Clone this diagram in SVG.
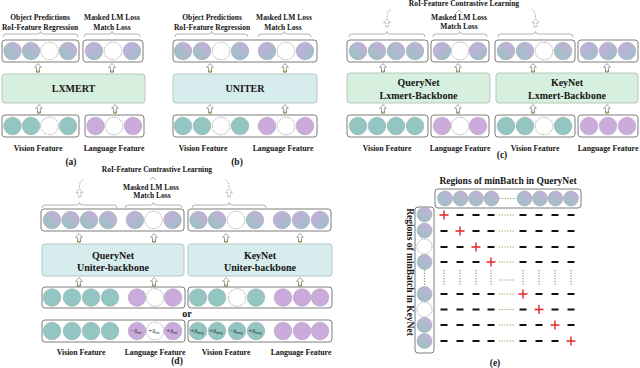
<svg xmlns="http://www.w3.org/2000/svg" width="640" height="368" viewBox="0 0 640 368">
<style>
.tx{font-family:"Liberation Serif","Times New Roman",serif;font-weight:bold;fill:#151515;text-anchor:middle}
.s7{font-size:7.5px}.s8{font-size:7.8px}.s9{font-size:9.5px}.s10{font-size:10px}
.bx{fill:#fff;stroke:#7c7c7c;stroke-width:1}
.mg{fill:#d7efde;stroke:#b8c8bc;stroke-width:1}
.mc{fill:#d7ecec;stroke:#b6c6c6;stroke-width:1}
.t{fill:#93c6c2;stroke:#8fa5a5;stroke-width:.5}
.p{fill:#caabdb;stroke:#a99bb5;stroke-width:.5}
.w{fill:#fff;stroke:#8a8a8a;stroke-width:.7;stroke-dasharray:1.4 .9}
.v{fill:url(#gV);stroke:#9aa5ad;stroke-width:.5}
.l{fill:url(#gL);stroke:#9aa5ad;stroke-width:.5}
.br{fill:none;stroke:#9ba58c;stroke-width:.8}
.dsh{fill:none;stroke:#8f8f8f;stroke-width:.8;stroke-dasharray:1.5 1.2}
.dt{fill:none;stroke:#8d9a58;stroke-width:1.2;stroke-dasharray:1.2 1.5}
.dl{font-family:"Liberation Serif","Times New Roman",serif;font-size:6.4px;fill:#222;text-anchor:middle}
.sb{font-size:4px}
</style>
<defs>
<linearGradient id="gV" x1="1" y1="0" x2="0" y2="1">
<stop offset="0" stop-color="#d0a8e0"/><stop offset=".55" stop-color="#a9bccb"/><stop offset="1" stop-color="#9bc0c6"/>
</linearGradient>
<linearGradient id="gL" x1="0" y1="0" x2="1" y2="1">
<stop offset="0" stop-color="#d0a8e0"/><stop offset=".5" stop-color="#b2b6d2"/><stop offset="1" stop-color="#9bc0c6"/>
</linearGradient>
<g id="ar">
<path d="M0 -4.5L3.4 -0.6H1.4V4H-1.4V-0.6H-3.4Z" fill="#fff" stroke="#8e8e8e" stroke-width=".8"/>
<path d="M-1.4 1.5V4H1.4V1.5" fill="none" stroke="#7e8f3a" stroke-width=".9"/>
</g>
<path id="ad" d="M0 -4.5L3.4 -0.6H1.4V4H-1.4V-0.6H-3.4Z" fill="#fff" stroke="#8e8e8e" stroke-width=".8" stroke-dasharray="1.5 1"/>
<rect id="mn" x="-3.5" y="-1" width="7" height="2" fill="#111"/>
<path id="pl" d="M-4.5 0H4.5M0 -4.5V4.5" stroke="#e52424" stroke-width="1.4" fill="none"/>
<path id="vd" d="M0 270V286" class="dt"/>
</defs>
<rect width="640" height="368" fill="#fff"/>

<!-- connectors: arrows, braces -->
<g id="connectors">
<path class="br" d="M3 37Q3 34 6 34H37.5Q40.5 34 40.5 31.5Q40.5 34 43.5 34H75Q78 34 78 37"/>
<path class="br" d="M84 37Q84 34 87 34H109Q112 34 112 31.5Q112 34 115 34H137Q140 34 140 37"/>
<path class="br" d="M175 37Q175 34 178 34H208.5Q211.5 34 211.5 31.5Q211.5 34 214.5 34H245Q248 34 248 37"/>
<path class="br" d="M258 37Q258 34 261 34H281.5Q284.5 34 284.5 31.5Q284.5 34 287.5 34H308Q311 34 311 37"/>
<path class="br" d="M349 37Q349 34 352 34H384Q387 34 387 31.5Q387 34 390 34H422Q425 34 425 37"/>
<path class="br" d="M433 37Q433 34 436 34H457Q460 34 460 31.5Q460 34 463 34H484Q487 34 487 37"/>
<path class="br" d="M498 37Q498 34 501 34H532.5Q535.5 34 535.5 31.5Q535.5 34 538.5 34H570Q573 34 573 37"/>
<path class="br" d="M42 208Q42 205 45 205H76.5Q79.5 205 79.5 202.5Q79.5 205 82.5 205H114Q117 205 117 208"/>
<path class="br" d="M125 208Q125 205 128 205H150.5Q153.5 205 153.5 202.5Q153.5 205 156.5 205H179Q182 205 182 208"/>
<path class="br" d="M192 208Q192 205 195 205H226Q229 205 229 202.5Q229 205 232 205H263Q266 205 266 208"/>
<path class="br" d="M456 13L459 10L462 13"/>
<path class="br" d="M150 180L153 177L156 180"/>
<use href="#ad" x="387" y="23"/>
<path class="dsh" d="M387 17Q387 11 391 9.5"/>
<use href="#ad" x="535.5" y="23"/>
<path class="dsh" d="M535.5 17Q535.5 11 531.5 9.5"/>
<use href="#ad" x="79.5" y="193"/>
<path class="dsh" d="M79.5 187Q79.5 181 83.5 179.5"/>
<use href="#ad" x="229" y="193"/>
<path class="dsh" d="M229 187Q229 181 225 179.5"/>
<use href="#ar" x="38" y="68"/><use href="#ar" x="112" y="68"/>
<use href="#ar" x="39" y="109"/><use href="#ar" x="115" y="109"/>
<use href="#ar" x="210" y="68"/><use href="#ar" x="285" y="68"/>
<use href="#ar" x="210" y="109"/><use href="#ar" x="285" y="109"/>
<use href="#ar" x="383" y="68"/><use href="#ar" x="458" y="68"/>
<use href="#ar" x="533" y="68"/><use href="#ar" x="607" y="68"/>
<use href="#ar" x="383" y="109"/><use href="#ar" x="458" y="109"/>
<use href="#ar" x="533" y="109"/><use href="#ar" x="607" y="109"/>
<use href="#ar" x="79" y="238"/><use href="#ar" x="154" y="238"/>
<use href="#ar" x="226" y="238"/><use href="#ar" x="300" y="238"/>
<use href="#ar" x="79" y="282"/><use href="#ar" x="154" y="282"/>
<use href="#ar" x="226" y="282"/><use href="#ar" x="300" y="282"/>
</g>

<!-- ============ (a) ============ -->
<g id="a-labels" class="tx s7">
<text x="40" y="19.5">Object Predictions</text>
<text x="40" y="29.5">RoI-Feature Regression</text>
<text x="112" y="19.5">Masked  LM Loss</text>
<text x="112" y="29.5">Match Loss</text>
</g>
<g id="a-vis-out">
<rect class="bx" x="2" y="40" width="77" height="22" rx="3"/>
<circle class="v" cx="12.5" cy="51" r="8.8"/><circle class="v" cx="31" cy="51" r="8.8"/>
<circle class="w" cx="49.5" cy="51" r="8.8"/><circle class="v" cx="68" cy="51" r="8.8"/>
</g>
<g id="a-lang-out">
<rect class="bx" x="83" y="40" width="60" height="22" rx="3"/>
<circle class="l" cx="94" cy="51" r="8.8"/><circle class="w" cx="113" cy="51" r="8.8"/><circle class="l" cx="132" cy="51" r="8.8"/>
</g>
<g id="a-model">
<rect class="mg" x="2" y="74" width="143" height="29" rx="3"/>
<text class="tx s10" x="73.5" y="92">LXMERT</text>
</g>
<g id="a-vis-in">
<rect class="bx" x="2" y="115" width="77" height="22" rx="3"/>
<circle class="t" cx="12.5" cy="126" r="8.8"/><circle class="t" cx="31" cy="126" r="8.8"/>
<circle class="w" cx="49.5" cy="126" r="8.8"/><circle class="t" cx="68" cy="126" r="8.8"/>
</g>
<g id="a-lang-in">
<rect class="bx" x="85" y="115" width="59" height="22" rx="3"/>
<circle class="p" cx="95.5" cy="126" r="8.8"/><circle class="w" cx="114" cy="126" r="8.8"/><circle class="p" cx="133" cy="126" r="8.8"/>
</g>
<g class="tx s8"><text x="38" y="151">Vision Feature</text><text x="114" y="151">Language Feature</text></g>
<text class="tx s9" x="71" y="165">(a)</text>

<!-- ============ (b) ============ -->
<g id="b-labels" class="tx s7">
<text x="212" y="19.5">Object Predictions</text>
<text x="212" y="29.5">RoI-Feature Regression</text>
<text x="284" y="19.5">Masked  LM Loss</text>
<text x="283" y="29.5">Match Loss</text>
</g>
<g id="b-out">
<rect class="bx" x="173" y="40" width="144" height="22" rx="3"/>
<circle class="v" cx="183" cy="51" r="8.8"/><circle class="v" cx="202" cy="51" r="8.8"/>
<circle class="w" cx="221" cy="51" r="8.8"/><circle class="v" cx="240" cy="51" r="8.8"/>
<circle class="l" cx="267" cy="51" r="8.8"/><circle class="w" cx="286" cy="51" r="8.8"/><circle class="l" cx="305" cy="51" r="8.8"/>
</g>
<g id="b-model">
<rect class="mc" x="173" y="74" width="144" height="29" rx="3"/>
<text class="tx s10" x="245" y="92">UNITER</text>
</g>
<g id="b-in">
<rect class="bx" x="173" y="115" width="144" height="22" rx="3"/>
<circle class="t" cx="183" cy="126" r="8.8"/><circle class="t" cx="202" cy="126" r="8.8"/>
<circle class="w" cx="221" cy="126" r="8.8"/><circle class="t" cx="240" cy="126" r="8.8"/>
<circle class="p" cx="267" cy="126" r="8.8"/><circle class="w" cx="286" cy="126" r="8.8"/><circle class="p" cx="305" cy="126" r="8.8"/>
</g>
<g class="tx s8"><text x="203" y="151">Vision Feature</text><text x="283" y="151">Language Feature</text></g>
<text class="tx s9" x="237" y="165">(b)</text>

<!-- ============ (c) ============ -->
<g id="c-labels" class="tx s7">
<text x="464" y="6">RoI-Feature Contrastive Learning</text>
<text x="459" y="20">Masked  LM Loss</text>
<text x="459" y="29">Match Loss</text>
</g>
<g id="c-q-vis-out">
<rect class="bx" x="347" y="40" width="81" height="22" rx="3"/>
<circle class="v" cx="358" cy="51" r="8.8"/><circle class="v" cx="377" cy="51" r="8.8"/>
<circle class="v" cx="396" cy="51" r="8.8"/><circle class="v" cx="415" cy="51" r="8.8"/>
</g>
<g id="c-q-lang-out">
<rect class="bx" x="431" y="40" width="58" height="22" rx="3"/>
<circle class="l" cx="442" cy="51" r="8.8"/><circle class="w" cx="460" cy="51" r="8.8"/><circle class="l" cx="478" cy="51" r="8.8"/>
</g>
<g id="c-k-vis-out">
<rect class="bx" x="495" y="40" width="80" height="22" rx="3"/>
<circle class="v" cx="506" cy="51" r="8.8"/><circle class="v" cx="525" cy="51" r="8.8"/>
<circle class="w" cx="544" cy="51" r="8.8"/><circle class="v" cx="563" cy="51" r="8.8"/>
</g>
<g id="c-k-lang-out">
<rect class="bx" x="578" y="40" width="60" height="22" rx="3"/>
<circle class="l" cx="589" cy="51" r="8.8"/><circle class="l" cx="608" cy="51" r="8.8"/><circle class="l" cx="627" cy="51" r="8.8"/>
</g>
<g id="c-querynet">
<rect class="mg" x="347" y="73" width="143" height="30" rx="3"/>
<text class="tx s10" x="418.5" y="86">QueryNet</text>
<text class="tx s10" x="418.5" y="98.5">Lxmert-Backbone</text>
</g>
<g id="c-keynet">
<rect class="mg" x="496" y="73" width="142" height="30" rx="3"/>
<text class="tx s10" x="567" y="86">KeyNet</text>
<text class="tx s10" x="567" y="98.5">Lxmert-Backbone</text>
</g>
<g id="c-q-vis-in">
<rect class="bx" x="347" y="115" width="81" height="22" rx="3"/>
<circle class="t" cx="358" cy="126" r="8.8"/><circle class="t" cx="377" cy="126" r="8.8"/>
<circle class="t" cx="396" cy="126" r="8.8"/><circle class="t" cx="415" cy="126" r="8.8"/>
</g>
<g id="c-q-lang-in">
<rect class="bx" x="431" y="115" width="58" height="22" rx="3"/>
<circle class="p" cx="442" cy="126" r="8.8"/><circle class="w" cx="460" cy="126" r="8.8"/><circle class="p" cx="478" cy="126" r="8.8"/>
</g>
<g id="c-k-vis-in">
<rect class="bx" x="495" y="115" width="80" height="22" rx="3"/>
<circle class="t" cx="506" cy="126" r="8.8"/><circle class="t" cx="525" cy="126" r="8.8"/>
<circle class="w" cx="544" cy="126" r="8.8"/><circle class="t" cx="563" cy="126" r="8.8"/>
</g>
<g id="c-k-lang-in">
<rect class="bx" x="578" y="115" width="60" height="22" rx="3"/>
<circle class="p" cx="589" cy="126" r="8.8"/><circle class="p" cx="608" cy="126" r="8.8"/><circle class="p" cx="627" cy="126" r="8.8"/>
</g>
<g class="tx s8">
<text x="387" y="151">Vision Feature</text><text x="460" y="151">Language Feature</text>
<text x="535" y="151">Vision Feature</text><text x="608" y="151">Language Feature</text>
</g>
<text class="tx s9" x="502" y="158">(c)</text>

<!-- ============ (d) ============ -->
<g id="d-labels" class="tx s7">
<text x="157" y="172">RoI-Feature Contrastive Learning</text>
<text x="151" y="190">Masked  LM Loss</text>
<text x="152" y="197.5">Match Loss</text>
</g>
<g id="d-q-out">
<rect class="bx" x="41" y="209" width="143" height="22" rx="3"/>
<circle class="v" cx="52" cy="220" r="8.8"/><circle class="v" cx="70.5" cy="220" r="8.8"/>
<circle class="v" cx="89" cy="220" r="8.8"/><circle class="v" cx="108" cy="220" r="8.8"/>
<circle class="l" cx="135" cy="220" r="8.8"/><circle class="w" cx="153.5" cy="220" r="8.8"/><circle class="l" cx="172.5" cy="220" r="8.8"/>
</g>
<g id="d-k-out">
<rect class="bx" x="188" y="209" width="143" height="22" rx="3"/>
<circle class="v" cx="198.5" cy="220" r="8.8"/><circle class="v" cx="217" cy="220" r="8.8"/>
<circle class="w" cx="236" cy="220" r="8.8"/><circle class="v" cx="255" cy="220" r="8.8"/>
<circle class="l" cx="282" cy="220" r="8.8"/><circle class="l" cx="301" cy="220" r="8.8"/><circle class="l" cx="320" cy="220" r="8.8"/>
</g>
<g id="d-querynet">
<rect class="mc" x="42" y="244" width="142" height="32" rx="3"/>
<text class="tx s10" x="113" y="258.5">QueryNet</text>
<text class="tx s10" x="113" y="270.5">Uniter-backbone</text>
</g>
<g id="d-keynet">
<rect class="mc" x="188" y="244" width="144" height="32" rx="3"/>
<text class="tx s10" x="260" y="258.5">KeyNet</text>
<text class="tx s10" x="260" y="270.5">Uniter-backbone</text>
</g>
<g id="d-q-in1">
<rect class="bx" x="42" y="287" width="143" height="21" rx="3"/>
<circle class="t" cx="52" cy="297.5" r="8.8"/><circle class="t" cx="72" cy="297.5" r="8.8"/>
<circle class="t" cx="91" cy="297.5" r="8.8"/><circle class="t" cx="110" cy="297.5" r="8.8"/>
<circle class="p" cx="137" cy="297.5" r="8.8"/><circle class="w" cx="155" cy="297.5" r="8.8"/><circle class="p" cx="173" cy="297.5" r="8.8"/>
</g>
<g id="d-k-in1">
<rect class="bx" x="188" y="287" width="144" height="21" rx="3"/>
<circle class="t" cx="198" cy="297.5" r="8.8"/><circle class="t" cx="217" cy="297.5" r="8.8"/>
<circle class="w" cx="237" cy="297.5" r="8.8"/><circle class="t" cx="256" cy="297.5" r="8.8"/>
<circle class="p" cx="283" cy="297.5" r="8.8"/><circle class="p" cx="302" cy="297.5" r="8.8"/><circle class="p" cx="320" cy="297.5" r="8.8"/>
</g>
<text class="tx s10" x="187" y="317">or</text>
<g id="d-q-in2">
<rect class="bx" x="42" y="320" width="143" height="22" rx="3"/>
<circle class="t" cx="52" cy="331" r="8.8"/><circle class="t" cx="72" cy="331" r="8.8"/>
<circle class="t" cx="91" cy="331" r="8.8"/><circle class="t" cx="110" cy="331" r="8.8"/>
<circle class="p" cx="137" cy="331" r="8.8"/><circle class="w" cx="155" cy="331" r="8.8"/><circle class="p" cx="173" cy="331" r="8.8"/>
<text class="dl" x="136" y="333">−δ<tspan class="sb" dy="1.3">txt</tspan></text>
<text class="dl" x="154" y="333">+δ<tspan class="sb" dy="1.3">txt</tspan></text>
<text class="dl" x="172" y="333">+δ<tspan class="sb" dy="1.3">txt</tspan></text>
</g>
<g id="d-k-in2">
<rect class="bx" x="188" y="320" width="144" height="22" rx="3"/>
<circle class="t" cx="198" cy="331" r="8.8"/><circle class="t" cx="217" cy="331" r="8.8"/>
<circle class="t" cx="237" cy="331" r="8.8"/><circle class="t" cx="256" cy="331" r="8.8"/>
<circle class="p" cx="283" cy="331" r="8.8"/><circle class="p" cx="302" cy="331" r="8.8"/><circle class="p" cx="320" cy="331" r="8.8"/>
<text class="dl" x="197" y="333">+δ<tspan class="sb" dy="1.3">img</tspan></text>
<text class="dl" x="216" y="333">+δ<tspan class="sb" dy="1.3">img</tspan></text>
<text class="dl" x="236" y="333">−δ<tspan class="sb" dy="1.3">img</tspan></text>
<text class="dl" x="255" y="333">+δ<tspan class="sb" dy="1.3">img</tspan></text>
</g>
<g class="tx s8">
<text x="81" y="355">Vision Feature</text><text x="155" y="355">Language Feature</text>
<text x="226" y="355">Vision Feature</text><text x="301" y="355">Language Feature</text>
</g>
<text class="tx s9" x="177" y="363.5">(d)</text>

<!-- ============ (e) ============ -->
<text class="tx s9" x="508" y="184">Regions of minBatch in QueryNet</text>
<text class="tx s9" transform="translate(406.5 272) rotate(90)">Regions of minBatch in KeyNet</text>
<g id="e-query">
<rect class="bx" x="435" y="189" width="146" height="19" rx="3"/>
<circle class="v" cx="445" cy="198.5" r="7.5"/><circle class="v" cx="460.5" cy="198.5" r="7.5"/>
<circle class="v" cx="476" cy="198.5" r="7.5"/><circle class="v" cx="491.5" cy="198.5" r="7.5"/>
<path class="dt" d="M499.5 198.5H516"/>
<circle class="v" cx="524.5" cy="198.5" r="7.5"/><circle class="v" cx="540" cy="198.5" r="7.5"/>
<circle class="v" cx="555.5" cy="198.5" r="7.5"/><circle class="v" cx="571" cy="198.5" r="7.5"/>
</g>
<g id="e-key">
<rect class="bx" x="415" y="207" width="19" height="146" rx="3"/>
<circle class="v" cx="424.5" cy="214.5" r="7.5"/><circle class="v" cx="424.5" cy="230.5" r="7.5"/>
<circle class="w" cx="424.5" cy="246.5" r="7.5"/><circle class="v" cx="424.5" cy="262" r="7.5"/>
<path class="dt" d="M424.5 270V286"/>
<circle class="v" cx="424.5" cy="294" r="7.5"/><circle class="w" cx="424.5" cy="309.5" r="7.5"/>
<circle class="v" cx="424.5" cy="325" r="7.5"/><circle class="v" cx="424.5" cy="341" r="7.5"/>
</g>
<g id="e-matrix">
<use href="#pl" x="444" y="215"/><use href="#mn" x="460" y="215"/><use href="#mn" x="476" y="215"/><use href="#mn" x="491" y="215"/>
<path class="dt" d="M499 215H515"/>
<use href="#mn" x="523" y="215"/><use href="#mn" x="539" y="215"/><use href="#mn" x="555" y="215"/><use href="#mn" x="571" y="215"/>
<use href="#mn" x="444" y="231"/><use href="#pl" x="460" y="231"/><use href="#mn" x="476" y="231"/><use href="#mn" x="491" y="231"/>
<path class="dt" d="M499 231H515"/>
<use href="#mn" x="523" y="231"/><use href="#mn" x="539" y="231"/><use href="#mn" x="555" y="231"/><use href="#mn" x="571" y="231"/>
<use href="#mn" x="444" y="247"/><use href="#mn" x="460" y="247"/><use href="#pl" x="476" y="247"/><use href="#mn" x="491" y="247"/>
<path class="dt" d="M499 247H515"/>
<use href="#mn" x="523" y="247"/><use href="#mn" x="539" y="247"/><use href="#mn" x="555" y="247"/><use href="#mn" x="571" y="247"/>
<use href="#mn" x="444" y="262"/><use href="#mn" x="460" y="262"/><use href="#mn" x="476" y="262"/><use href="#pl" x="491" y="262"/>
<path class="dt" d="M499 262H515"/>
<use href="#mn" x="523" y="262"/><use href="#mn" x="539" y="262"/><use href="#mn" x="555" y="262"/><use href="#mn" x="571" y="262"/>
<use href="#vd" x="444"/><use href="#vd" x="460"/><use href="#vd" x="476"/><use href="#vd" x="491"/>
<path class="dt" d="M499 280H515"/>
<use href="#vd" x="523"/><use href="#vd" x="539"/><use href="#vd" x="555"/><use href="#vd" x="571"/>
<use href="#mn" x="444" y="294"/><use href="#mn" x="460" y="294"/><use href="#mn" x="476" y="294"/><use href="#mn" x="491" y="294"/>
<path class="dt" d="M499 294H515"/>
<use href="#pl" x="523" y="294"/><use href="#mn" x="539" y="294"/><use href="#mn" x="555" y="294"/><use href="#mn" x="571" y="294"/>
<use href="#mn" x="444" y="309.5"/><use href="#mn" x="460" y="309.5"/><use href="#mn" x="476" y="309.5"/><use href="#mn" x="491" y="309.5"/>
<path class="dt" d="M499 309.5H515"/>
<use href="#mn" x="523" y="309.5"/><use href="#pl" x="539" y="309.5"/><use href="#mn" x="555" y="309.5"/><use href="#mn" x="571" y="309.5"/>
<use href="#mn" x="444" y="325"/><use href="#mn" x="460" y="325"/><use href="#mn" x="476" y="325"/><use href="#mn" x="491" y="325"/>
<path class="dt" d="M499 325H515"/>
<use href="#mn" x="523" y="325"/><use href="#mn" x="539" y="325"/><use href="#pl" x="555" y="325"/><use href="#mn" x="571" y="325"/>
<use href="#mn" x="444" y="341"/><use href="#mn" x="460" y="341"/><use href="#mn" x="476" y="341"/><use href="#mn" x="491" y="341"/>
<path class="dt" d="M499 341H515"/>
<use href="#mn" x="523" y="341"/><use href="#mn" x="539" y="341"/><use href="#mn" x="555" y="341"/><use href="#pl" x="571" y="341"/>
</g>
<text class="tx s9" x="495" y="366">(e)</text>
</svg>
